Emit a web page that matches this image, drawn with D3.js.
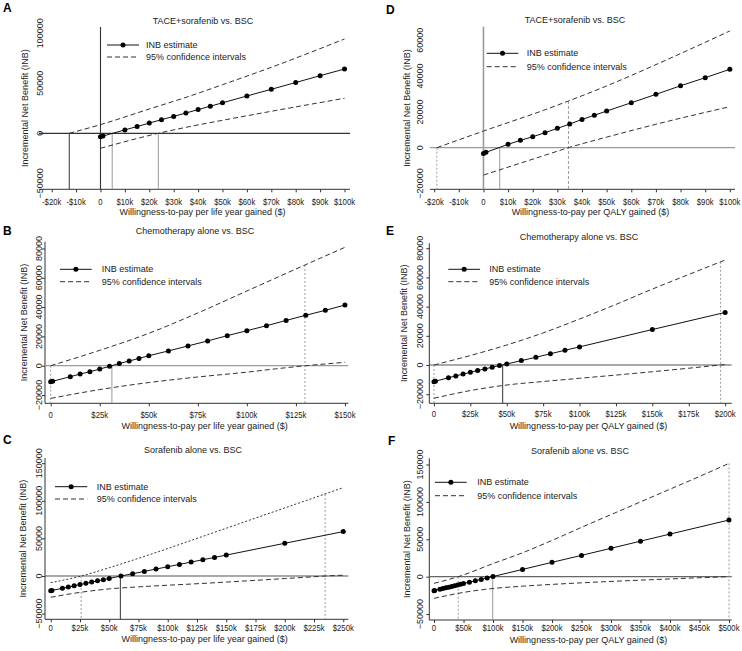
<!DOCTYPE html>
<html><head><meta charset="utf-8">
<script src="https://cdn.jsdelivr.net/npm/d3@7"></script>
<style>
body{margin:0;background:#fff}
svg{display:block}
text{font-family:"Liberation Sans",Arial,sans-serif;fill:#222}
</style>
</head><body>
<svg id="chart" width="742" height="651"></svg>
<script>
// ---------- shared text ----------
const titles = ["TACE+sorafenib vs. BSC", "Chemotherapy alone vs. BSC", "Sorafenib alone vs. BSC"];
const xLabelLY = "Willingness-to-pay per life year gained ($)";
const xLabelQALY = "Willingness-to-pay per QALY gained ($)";
const yLabel = "Incremental Net Benefit (INB)";
const legendLabels = ["INB estimate", "95% confidence intervals"];

// ---------- Panel A ----------
const A_wtp = [0, 1000, 10000, 15000, 20000, 25000, 30000, 35000, 40000, 45000, 50000, 60000, 70000, 80000, 90000, 100000];
const A_inb = [-3400, -2700, 3400, 6800, 10200, 13600, 16900, 20300, 23700, 27100, 30500, 37300, 44000, 50800, 57600, 64300];
const A_upperWtp = [-12800, 0, 20000, 36700, 50000, 70000, 100000];
const A_upper = [0, 8700, 24300, 37300, 48600, 66000, 94300];
const A_lowerWtp = [0, 23700, 36700, 50000, 70000, 100000];
const A_lower = [-15000, 0, 6800, 13000, 22000, 35000];
const A_thresholds = [-12800, 4800, 23700];
const A_xTicks = [-20000, -10000, 0, 10000, 20000, 30000, 40000, 50000, 60000, 70000, 80000, 90000, 100000];
const A_xTickLabels = ["-$20k", "-$10k", "0", "$10k", "$20k", "$30k", "$40k", "$50k", "$60k", "$70k", "$80k", "$90k", "$100k"];
const A_yTicks = [-50000, 0, 50000, 100000];

// ---------- Panel B ----------
const B_wtp = [0, 1000, 10000, 15000, 20000, 25000, 30000, 35000, 40000, 45000, 50000, 60000, 70000, 80000, 90000, 100000, 110000, 120000, 130000, 140000, 150000];
const B_inb = [-10900, -10600, -7500, -5700, -4100, -2300, -400, 1500, 3200, 5000, 6800, 10100, 13500, 16900, 20500, 23900, 27300, 30900, 34400, 37800, 41400];
const B_upperWtp = [0, 25000, 50000, 75000, 100000, 125000, 150000];
const B_upper = [0, 10500, 22100, 36000, 51000, 66000, 80800];
const B_lowerWtp = [0, 25000, 50000, 75000, 100000, 115000, 130000, 150000];
const B_lower = [-22300, -16300, -11500, -7700, -4400, -2100, 0, 2300];
const B_thresholds = [0, 31200, 129600];
const B_xTicks = [0, 25000, 50000, 75000, 100000, 125000, 150000];
const B_xTickLabels = ["0", "$25k", "$50k", "$75k", "$100k", "$125k", "$150k"];
const B_yTicks = [-20000, 0, 20000, 40000, 60000, 80000];

// ---------- Panel C ----------
const C_wtp = [0, 1000, 10000, 15000, 20000, 25000, 30000, 35000, 40000, 45000, 50000, 60000, 70000, 80000, 90000, 100000, 110000, 120000, 130000, 140000, 150000, 200000, 250000];
const C_inb = [-19500, -19200, -16400, -14800, -13100, -11400, -9800, -8100, -6500, -4900, -3300, 0, 3000, 6100, 9200, 12300, 15400, 18500, 21600, 24700, 27800, 43500, 59000];
const C_upperWtp = [0, 25000, 50000, 75000, 100000, 125000, 150000, 175000, 200000, 225000, 250000];
const C_upper = [-8900, -500, 11000, 23500, 36500, 50000, 63500, 77000, 90500, 104000, 117500];
const C_lowerWtp = [0, 25000, 50000, 75000, 100000, 125000, 150000, 175000, 200000, 225000, 234500, 250000];
const C_lower = [-28300, -21800, -17200, -14500, -12300, -10300, -8100, -5800, -3400, -1000, 0, 1000];
const C_thresholds = [26000, 59500, 234500];
const C_xTicks = [0, 25000, 50000, 75000, 100000, 125000, 150000, 175000, 200000, 225000, 250000];
const C_xTickLabels = ["0", "$25k", "$50k", "$75k", "$100k", "$125k", "$150k", "$175k", "$200k", "$225k", "$250k"];
const C_yTicks = [-50000, 0, 50000, 100000, 150000];

// ---------- Panel D ----------
const D_wtp = [0, 1000, 10000, 15000, 20000, 25000, 30000, 35000, 40000, 45000, 50000, 60000, 70000, 80000, 90000, 100000];
const D_inb = [-3200, -2600, 1900, 4100, 6100, 8400, 10800, 13200, 15800, 18100, 20500, 25100, 29800, 34600, 39100, 43800];
const D_upperWtp = [-18900, 0, 25000, 34500, 50000, 75000, 100000];
const D_upper = [0, 9300, 21200, 26100, 34500, 49500, 65200];
const D_lowerWtp = [0, 25000, 34500, 50000, 75000, 100000];
const D_lower = [-15300, -4200, 0, 5900, 14800, 22900];
const D_thresholds = [-18900, 6600, 34500];
const D_xTicks = A_xTicks;
const D_xTickLabels = A_xTickLabels;
const D_yTicks = [-20000, 0, 20000, 40000, 60000];

// ---------- Panel E ----------
const E_wtp = [0, 1000, 10000, 15000, 20000, 25000, 30000, 35000, 40000, 45000, 50000, 60000, 70000, 80000, 90000, 100000, 150000, 200000];
const E_inb = [-11400, -11100, -8700, -7500, -6200, -5000, -3800, -2700, -1500, -400, 700, 3000, 5300, 7700, 10100, 12400, 24300, 36000];
const E_upperWtp = [0, 25000, 50000, 75000, 100000, 125000, 150000, 175000, 200000];
const E_upper = [0, 6500, 13700, 22000, 31500, 41500, 52000, 62000, 71900];
const E_lowerWtp = [0, 25000, 50000, 75000, 100000, 125000, 150000, 175000, 196900, 200000];
const E_lower = [-22800, -17500, -13700, -11300, -9100, -6900, -4600, -2200, 0, 300];
const E_thresholds = [0, 47200, 196900];
const E_xTicks = [0, 25000, 50000, 75000, 100000, 125000, 150000, 175000, 200000];
const E_xTickLabels = ["0", "$25k", "$50k", "$75k", "$100k", "$125k", "$150k", "$175k", "$200k"];
const E_yTicks = [-20000, 0, 20000, 40000, 60000, 80000];

// ---------- Panel F ----------
const F_wtp = [0, 1000, 10000, 15000, 20000, 25000, 30000, 35000, 40000, 45000, 50000, 60000, 70000, 80000, 90000, 100000, 150000, 200000, 250000, 300000, 350000, 400000, 500000];
const F_inb = [-18700, -18500, -16800, -15900, -14900, -14000, -13000, -12100, -11100, -10200, -9200, -7300, -5500, -3600, -1700, 200, 9700, 19200, 28500, 38000, 47500, 57000, 75800];
const F_upperWtp = [0, 41000, 100000, 150000, 200000, 250000, 300000, 350000, 400000, 450000, 500000];
const F_upper = [-8900, 0, 17500, 32000, 48500, 66000, 83000, 100000, 117000, 134000, 151500];
const F_lowerWtp = [0, 50000, 100000, 150000, 200000, 250000, 300000, 350000, 400000, 450000, 500000];
const F_lower = [-29000, -21000, -15800, -12700, -10300, -8200, -6300, -4600, -3000, -1400, 0];
const F_thresholds = [41000, 99500, 500000];
const F_xTicks = [0, 50000, 100000, 150000, 200000, 250000, 300000, 350000, 400000, 450000, 500000];
const F_xTickLabels = ["0", "$50k", "$100k", "$150k", "$200k", "$250k", "$300k", "$350k", "$400k", "$450k", "$500k"];
const F_yTicks = C_yTicks;

// ---------- layout / styling (not data) ----------
const DARK = "#333", GREY = "#9a9a9a";
const panels = [
  {letter:"A", title:titles[0], xlab:xLabelLY, wtp:A_wtp, inb:A_inb, upX:A_upperWtp, up:A_upper, loX:A_lowerWtp, lo:A_lower,
   thr:A_thresholds, thrStyle:[[DARK,null,0],[GREY,null,0],[GREY,null,0]],
   xt:A_xTicks, xtl:A_xTickLabels, yt:A_yTicks,
   xDom:[-25200,102250], xR:[39,350], yDom:[-56000,106300], yR:[189.3,27],
   leftAxis:false, zeroV:DARK, zeroH:DARK, upDash:"5,3",
   letter_xy:[3,11.5], title_xy:[203,21], tickOff:12, xlabOff:22.5, ylab_x:25, ytl_x:40, leg:[107,139,45,57,146]},
  {letter:"B", title:titles[1], xlab:xLabelLY, wtp:B_wtp, inb:B_inb, upX:B_upperWtp, up:B_upper, loX:B_lowerWtp, lo:B_lower,
   thr:B_thresholds, thrStyle:[[GREY,"2,2",0],[GREY,null,0],[GREY,"2,2",1]],
   xt:B_xTicks, xtl:B_xTickLabels, yt:B_yTicks,
   xDom:[-2900,151700], xR:[45,348.3], yDom:[-25660,84640], yR:[403.3,241.7],
   leftAxis:true, zeroV:null, zeroH:GREY, upDash:"5,3",
   letter_xy:[3,235], title_xy:[195,231], tickOff:11, xlabOff:22.5, ylab_x:23.5, ytl_x:39, leg:[60,91.7,269.3,281.7,101.7]},
  {letter:"C", title:titles[2], xlab:xLabelLY, wtp:C_wtp, inb:C_inb, upX:C_upperWtp, up:C_upper, loX:C_lowerWtp, lo:C_lower,
   thr:C_thresholds, thrStyle:[[GREY,"2,2",0],[DARK,null,0],[GREY,"2,2",1]],
   xt:C_xTicks, xtl:C_xTickLabels, yt:C_yTicks,
   xDom:[-4900,254300], xR:[45,348.3], yDom:[-57600,156900], yR:[619.3,458],
   leftAxis:true, zeroV:null, zeroH:"#555", upDash:"2,2",
   letter_xy:[3,444], title_xy:[193,450], tickOff:8, xlabOff:19.5, ylab_x:23, ytl_x:39, leg:[55,87.3,486.7,499,96.7]},
  {letter:"D", title:titles[0], xlab:xLabelQALY, wtp:D_wtp, inb:D_inb, upX:D_upperWtp, up:D_upper, loX:D_lowerWtp, lo:D_lower,
   thr:D_thresholds, thrStyle:[[GREY,"2,2",0],[GREY,null,0],[GREY,"3,2",1]],
   xt:D_xTicks, xtl:D_xTickLabels, yt:D_yTicks,
   xDom:[-21700,102100], xR:[430,735], yDom:[-23240,67600], yR:[189.3,26.7],
   leftAxis:false, zeroV:GREY, zeroH:GREY, upDash:"5,3",
   letter_xy:[386,14], title_xy:[575,19.5], tickOff:12, xlabOff:22.5, ylab_x:406.5, ytl_x:420, leg:[486.7,518.3,53.3,66.7,526.7]},
  {letter:"E", title:titles[1], xlab:xLabelQALY, wtp:E_wtp, inb:E_inb, upX:E_upperWtp, up:E_upper, loX:E_lowerWtp, lo:E_lower,
   thr:E_thresholds, thrStyle:[[GREY,"2,2",0],[DARK,null,0],[GREY,"2,2",1]],
   xt:E_xTicks, xtl:E_xTickLabels, yt:E_yTicks,
   xDom:[-3200,204500], xR:[429.3,731.7], yDom:[-26230,83360], yR:[403.3,243.3],
   leftAxis:true, zeroV:null, zeroH:"#555", upDash:"5,3",
   letter_xy:[386,235], title_xy:[579,237], tickOff:10.5, xlabOff:22.5, ylab_x:403.5, ytl_x:420, leg:[448.3,480,269.3,281.7,489.3]},
  {letter:"F", title:titles[2], xlab:xLabelQALY, wtp:F_wtp, inb:F_inb, upX:F_upperWtp, up:F_upper, loX:F_lowerWtp, lo:F_lower,
   thr:F_thresholds, thrStyle:[[GREY,"2,2",0],[GREY,null,0],[GREY,"2,2",1]],
   xt:F_xTicks, xtl:F_xTickLabels, yt:F_yTicks,
   xDom:[-8000,504600], xR:[429.3,731.7], yDom:[-57900,158300], yR:[620,458.3],
   leftAxis:true, zeroV:null, zeroH:"#666", upDash:"5,3",
   letter_xy:[388,445], title_xy:[580,451], tickOff:8, xlabOff:19.5, ylab_x:406.5, ytl_x:420, leg:[435,466.7,482.3,495.7,477.3]}
];

const svg = d3.select("#chart");
const FS = 9;
const R = 2.5;

function drawPanel(p) {
  const g = svg.append("g");
  const x = d3.scaleLinear().domain(p.xDom).range(p.xR);
  const y = d3.scaleLinear().domain(p.yDom).range(p.yR);
  const bottom = p.yR[0], top = p.yR[1];
  const upInterp = d3.scaleLinear().domain(p.upX).range(p.up);

  // bottom axis
  const xAxis = d3.axisBottom(x).tickValues(p.xt).tickSize(3).tickFormat(() => "");
  const ax = g.append("g").attr("transform", `translate(0,${bottom})`).call(xAxis);
  ax.selectAll("path,line").attr("stroke", DARK).attr("stroke-width", 1);
  ax.select(".domain").attr("d", `M${p.xR[0]},0H${p.xR[1]}`);
  g.selectAll(".xtl").data(p.xt).join("text")
    .attr("transform", d => `translate(${x(d)},${bottom + p.tickOff}) scale(0.86,1)`)
    .attr("text-anchor", "middle").attr("dominant-baseline", "central")
    .attr("font-size", FS).text((d, i) => p.xtl[i]);

  // left axis
  if (p.leftAxis) {
    const yAxis = d3.axisLeft(y).tickValues(p.yt).tickSize(3).tickFormat(() => "");
    const ay = g.append("g").attr("transform", `translate(${p.xR[0]},0)`).call(yAxis);
    ay.selectAll("path,line").attr("stroke", DARK).attr("stroke-width", 1);
    ay.select(".domain").attr("d", `M0,${top}V${bottom}`);
  }
  g.selectAll(".ytl").data(p.yt).join("text")
    .attr("transform", d => `translate(${p.ytl_x},${y(d)}) rotate(-90)`)
    .attr("text-anchor", "middle").attr("dominant-baseline", "central")
    .attr("font-size", FS).text(d => d3.format("d")(d));

  // zero lines
  g.append("line").attr("x1", p.xR[0]).attr("x2", p.xR[1]).attr("y1", y(0)).attr("y2", y(0))
    .attr("stroke", p.zeroH).attr("stroke-width", 1.2);
  if (p.zeroV) {
    g.append("line").attr("x1", x(0)).attr("x2", x(0)).attr("y1", top).attr("y2", bottom)
      .attr("stroke", p.zeroV).attr("stroke-width", p.zeroV === GREY ? 1.6 : 1.1);
  }

  // threshold verticals
  p.thr.forEach((t, i) => {
    const [c, dash, fromUp] = p.thrStyle[i];
    g.append("line").attr("x1", x(t)).attr("x2", x(t))
      .attr("y1", fromUp ? y(upInterp(t)) : y(0)).attr("y2", bottom)
      .attr("stroke", c).attr("stroke-width", 1).attr("stroke-dasharray", dash);
  });

  // CI lines
  const line = d3.line().x(d => x(d[0])).y(d => y(d[1])).curve(d3.curveMonotoneX);
  g.append("path").attr("d", line(d3.zip(p.upX, p.up))).attr("fill", "none")
    .attr("stroke", DARK).attr("stroke-width", 1).attr("stroke-dasharray", p.upDash);
  g.append("path").attr("d", line(d3.zip(p.loX, p.lo))).attr("fill", "none")
    .attr("stroke", DARK).attr("stroke-width", 1).attr("stroke-dasharray", "5,3");

  // INB line + markers
  const pts = d3.zip(p.wtp, p.inb);
  g.append("path").attr("d", d3.line().x(d => x(d[0])).y(d => y(d[1]))(pts)).attr("fill", "none")
    .attr("stroke", "#111").attr("stroke-width", 1);
  g.selectAll(".pt").data(pts).join("circle")
    .attr("cx", d => x(d[0])).attr("cy", d => y(d[1])).attr("r", R).attr("fill", "#000");

  // legend
  const [lx1, lx2, ly1, ly2, tx] = p.leg;
  g.append("line").attr("x1", lx1).attr("x2", lx2).attr("y1", ly1).attr("y2", ly1).attr("stroke", "#111");
  g.append("circle").attr("cx", (lx1 + lx2) / 2).attr("cy", ly1).attr("r", R).attr("fill", "#000");
  g.append("line").attr("x1", lx1).attr("x2", lx2).attr("y1", ly2).attr("y2", ly2).attr("stroke", DARK).attr("stroke-dasharray", "5,3");
  g.append("text").attr("x", tx).attr("y", ly1).attr("dominant-baseline", "central").attr("font-size", FS).text(legendLabels[0]);
  g.append("text").attr("x", tx).attr("y", ly2).attr("dominant-baseline", "central").attr("font-size", FS).text(legendLabels[1]);

  // titles / labels
  g.append("text").attr("x", p.title_xy[0]).attr("y", p.title_xy[1]).attr("text-anchor", "middle")
    .attr("dominant-baseline", "central").attr("font-size", FS).text(p.title);
  g.append("text").attr("x", (p.xR[0] + p.xR[1]) / 2 + 8).attr("y", bottom + p.xlabOff).attr("text-anchor", "middle")
    .attr("dominant-baseline", "central").attr("font-size", FS).text(p.xlab);
  g.append("text").attr("transform", `translate(${p.ylab_x},${(top + bottom) / 2}) rotate(-90)`)
    .attr("text-anchor", "middle").attr("dominant-baseline", "central").attr("font-size", FS).text(yLabel);
  g.append("text").attr("x", p.letter_xy[0]).attr("y", p.letter_xy[1]).attr("font-size", 12)
    .attr("font-weight", "bold").style("fill", "#000").text(p.letter);
}

panels.forEach(drawPanel);
</script>
</body></html>
